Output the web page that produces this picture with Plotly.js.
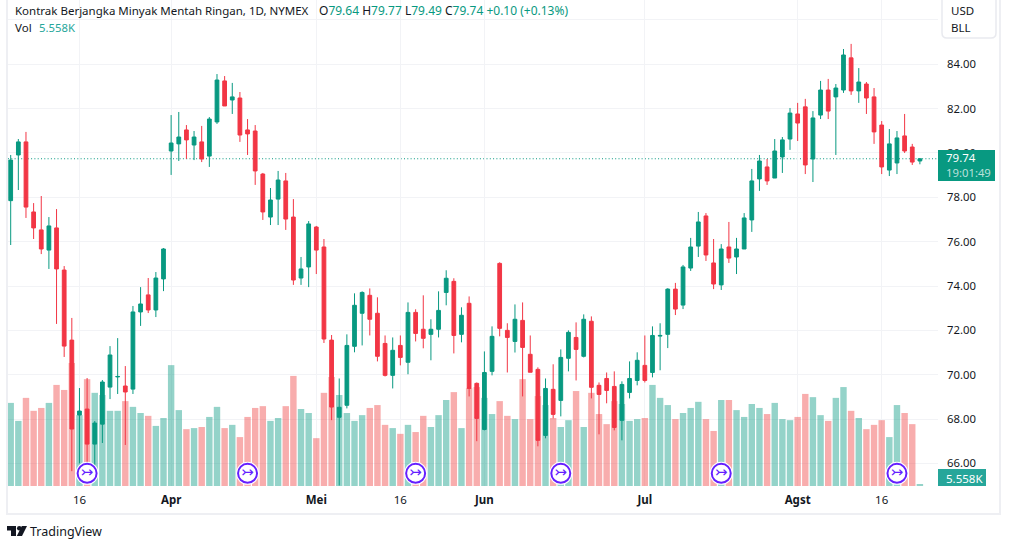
<!DOCTYPE html>
<html><head><meta charset="utf-8">
<script src="https://cdn.plot.ly/plotly-3.0.1.min.js"></script>
<style>html,body{margin:0;padding:0;background:#fff}#c{width:1009px;height:548px}</style>
</head><body><div id="c"></div>
<script>
const openP=[77.85,79.91,80.5,77.34,76.53,75.62,76.62,74.72,71.56,68.18,68.45,66.87,67.77,69.44,69.9,69.49,69.35,72.83,73.6,72.92,74.32,
80.09,80.41,81.04,80.36,80.5,79.86,81.4,83.25,82.39,82.48,81.04,80.99,79.05,77.11,77.92,78.74,77.11,74.36,74.86,76.66,75.76,71.56,68.08,
68.62,71.28,72.77,73.58,72.77,71.41,69.97,71.32,70.56,72.81,72.05,71.82,72.05,73.71,74.21,71.82,73.22,69.61,67.53,70.15,75.02,72.0,71.5,72.45,70.92,70.24,67.26,69.34,68.84,70.74,71.68,70.83,72.41,69.52,69.83,69.47,67.94,69.2,69.74,70.42,70.1,71.74,71.82,
73.86,73.14,74.81,75.8,77.16,75.04,74.05,75.76,75.31,75.67,76.98,78.83,79.37,78.87,79.82,80.63,81.76,82.08,79.73,81.71,82.84,82.53,82.84,84.29,82.8,83.11,82.53,81.26,79.23,79.55,80.77,80.27,79.64];
const highP=[79.91,80.63,80.95,77.74,78.06,77.11,77.47,74.9,72.56,69.4,69.85,67.91,69.76,71.29,71.65,70.39,73.1,73.95,74.36,74.63,75.71,
81.71,81.85,81.26,80.99,81.22,81.62,83.56,83.47,83.16,82.75,81.53,81.26,79.1,78.42,79.19,79.1,77.92,75.31,76.93,76.71,76.12,71.79,69.83,
71.82,73.67,73.76,73.89,73.49,71.77,71.68,71.77,73.26,72.95,73.58,72.5,73.76,74.71,74.35,73.04,73.53,69.65,71.05,72.18,75.07,72.32,73.17,73.26,71.77,70.33,69.83,70.47,71.14,72.0,72.36,72.72,72.63,69.65,70.1,70.15,69.7,70.6,71.01,71.77,72.18,72.32,73.9,
74.14,74.95,76.17,77.34,77.29,76.12,75.89,76.89,76.17,77.29,79.28,79.91,79.73,80.63,80.72,82.03,82.26,82.44,81.89,83.25,83.34,83.11,84.69,84.92,83.83,83.2,82.93,81.44,81.08,80.99,81.76,80.41,79.77];
const lowP=[75.85,78.33,77.07,76.12,75.44,74.77,72.29,70.8,65.65,66.0,66.0,65.2,66.92,68.9,69.13,66.83,69.13,72.2,72.78,72.6,73.77,
79.01,79.64,79.73,79.68,79.59,79.37,81.31,82.12,81.76,80.5,79.91,78.56,76.98,76.75,76.75,76.53,74.05,74.05,73.95,74.54,71.43,67.95,65.0,
68.48,71.01,71.32,71.77,70.6,69.92,69.38,70.42,70.02,71.5,71.19,70.65,71.68,73.13,70.96,71.46,69.02,67.0,67.49,69.97,71.73,70.1,71.0,69.02,70.11,66.77,67.13,68.03,68.12,70.15,69.74,70.78,68.93,67.31,68.71,67.49,67.04,68.93,69.52,69.65,69.88,70.2,71.2,
72.69,72.96,74.68,75.31,75.13,73.86,73.82,75.04,74.54,75.67,76.44,78.29,78.56,78.87,79.1,80.14,80.54,79.05,78.69,81.53,81.53,79.91,82.71,82.62,82.26,81.76,80.41,79.05,78.96,79.05,80.0,79.46,79.49];
const closeP=[79.68,80.5,77.56,76.62,75.67,76.71,74.77,71.29,67.55,68.36,66.87,67.82,69.67,70.89,69.92,69.22,72.83,73.19,72.92,74.36,75.67,
80.45,80.72,80.59,80.72,79.73,81.53,83.29,82.12,82.53,80.81,80.86,79.19,77.34,77.88,78.78,77.02,74.27,74.77,76.8,75.62,71.61,68.54,68.53,
71.32,73.13,73.71,72.5,70.83,69.97,71.1,70.78,72.81,71.86,71.64,72.05,72.9,74.35,71.77,72.68,69.38,68.03,70.1,71.73,72.09,71.68,72.5,71.23,70.11,67.04,69.38,68.21,70.78,71.91,71.14,72.5,69.43,69.11,69.29,67.62,69.56,69.83,70.65,69.74,71.77,71.77,73.86,
72.96,74.86,75.76,76.89,75.4,74.09,75.67,75.26,75.67,77.07,78.74,79.64,78.74,80.09,80.59,81.8,81.35,79.46,81.58,82.84,81.89,82.93,84.42,82.8,83.2,82.48,80.95,79.37,80.41,80.68,80.09,79.59,79.74];
const volumeK=[231,181,245,209,217,231,281,267,342,197,297,259,253,209,209,236,220,203,195,167,189,336,211,158,161,164,192,220,161,170,136,192,217,222,181,189,222,306,214,203,133,259,303,253,
203,181,197,217,225,170,161,145,170,150,195,164,197,239,261,161,272,275,245,200,236,195,186,297,186,250,225,189,164,183,264,164,259,200,172,236,228,181,186,189,281,245,225,
186,203,217,234,186,153,239,239,211,192,228,217,200,231,186,183,192,256,247,197,181,245,275,209,189,158,170,183,136,225,203,172,5.558];
const dateTickIndex=[9,21,40,51,62,83,103,114];
const dateTickLabels=['16','<b>Apr</b>','<b>Mei</b>','16','<b>Jun</b>','<b>Jul</b>','<b>Agst</b>','16'];
const priceTicks=[66,68,70,72,74,76,78,80,82,84,86];
const priceTickLabels=['66.00','68.00','70.00','72.00','74.00','76.00','78.00','80.00','82.00','84.00',''];
const rollIndex=[10,31,53,72,93,116];
const rollLevel=[65.55,65.55,65.55,65.55,65.55,65.55];
const lastClose=79.74;

const GREEN='#089981',RED='#f23645',VOLRED='#ee4040',INK='#131722',FONT='"Noto Sans",sans-serif';
const W=1009,H=548,L=8,R=938,B=486;
const px=x=>(x-L)/(R-L), py=y=>(B-y)/B;
const idx=closeP.map((_,i)=>i);
const P=s=>s.replace(/([MLHVQ]?)(-?[\d.]+),(-?[\d.]+)/g,(m,c,x,y)=>c+px(+x)+','+py(+y));
const txt=(x,y,text,size,color,anchor)=>({xref:'paper',yref:'paper',x:px(x),y:py(y),text,showarrow:false,xanchor:anchor||'left',yanchor:'middle',
  font:{family:FONT,size:size||12,color:color||INK},borderpad:0,borderwidth:0});
const rect=(x0,y0,x1,y1,fill,line)=>({type:'rect',xref:'paper',yref:'paper',x0:px(x0),x1:px(x1),y0:py(y0),y1:py(y1),fillcolor:fill||'rgba(0,0,0,0)',line:line||{width:0},layer:'above'});
const path=(d,fill,line)=>({type:'path',xref:'paper',yref:'paper',path:P(d),fillcolor:fill||'rgba(0,0,0,0)',line:line||{width:0},layer:'above'});
const g=s=>`<span style="color:${GREEN}">${s}</span>`;

const traces=[
 {type:'bar',x:idx,y:volumeK,xaxis:'x',yaxis:'y',width:0.84,hoverinfo:'skip',
  marker:{color:idx.map(i=>closeP[i]>=openP[i]?GREEN:VOLRED),opacity:0.43,line:{width:0}}},
 {type:'candlestick',x:idx,open:openP,high:highP,low:lowP,close:closeP,xaxis:'x',yaxis:'y2',whiskerwidth:0,width:0.58,hoverinfo:'skip',
  increasing:{line:{color:GREEN,width:1},fillcolor:GREEN},decreasing:{line:{color:RED,width:1},fillcolor:RED}},
 {type:'scatter',mode:'markers',x:rollIndex,y:rollLevel,xaxis:'x',yaxis:'y2',hoverinfo:'skip',cliponaxis:false,
  marker:{size:23,color:'#fff',line:{width:0}}},
 {type:'scatter',mode:'markers+text',x:rollIndex,y:rollLevel,xaxis:'x',yaxis:'y2',hoverinfo:'skip',cliponaxis:false,
  text:rollIndex.map(()=>'↣'),textposition:'middle center',textfont:{family:'DejaVu Sans',size:15,color:'#651fff'},
  marker:{size:19,color:'#fff',line:{width:2,color:'#651fff'}}}
];
const layout={width:W,height:H,margin:{l:L,r:W-R,t:0,b:H-B,pad:0},paper_bgcolor:'#fff',plot_bgcolor:'#fff',showlegend:false,hovermode:false,
 xaxis:{type:'linear',range:[-0.353,121.37],tickmode:'array',tickvals:dateTickIndex,ticktext:dateTickLabels,showgrid:true,gridcolor:'#f2f3f6',gridwidth:1,zeroline:false,showline:false,
  ticks:'',ticklabelstandoff:5,tickfont:{family:FONT,size:11.5,color:INK},rangeslider:{visible:false}},
 yaxis:{range:[0,1351],visible:false,showgrid:false,zeroline:false,fixedrange:true},
 yaxis2:{overlaying:'y',side:'right',anchor:'x',range:[64.98,86.9],tickmode:'array',tickvals:priceTicks,ticktext:priceTickLabels,showgrid:true,gridcolor:'#f2f3f6',gridwidth:1,zeroline:false,showline:false,
  ticks:'',ticklabelstandoff:8,tickfont:{family:FONT,size:11.3,color:INK}},
 shapes:[
  {type:'line',xref:'paper',yref:'y2',x0:0,x1:1,y0:lastClose,y1:lastClose,line:{color:GREEN,width:1,dash:'1px,2.3px'},layer:'between'},
  path('M7,-2L7,514L1000,514L1000,-2','rgba(0,0,0,0)',{color:'#eeeff3',width:2}),
  path('M942,-2L942,33Q942,38 947,38L991,38Q996,38 996,33L996,-2','#fff',{color:'#e9eaef',width:1.5}),
  rect(938,150,995,181,GREEN,{width:0}),
  rect(938,469,986,486,'#26a69a',{width:0}),
  path('M7,526L16,526L16,536L11,536L11,530.5L7,530.5Z',INK),
  path('M27,526L22,536L16.8,536L21.8,526Z',INK),
  {type:'circle',xref:'paper',yref:'paper',x0:px(17),x1:px(21.6),y0:py(530.5),y1:py(526),fillcolor:INK,line:{width:0},layer:'above'}
 ],
 annotations:[
  txt(15,10,'Kontrak Berjangka Minyak Mentah Ringan, 1D, NYMEX',11.5),
  txt(319,10,`O${g('79.64')} H${g('79.77')} L${g('79.49')} C${g('79.74')} ${g('+0.10 (+0.13%)')}`,12),
  txt(15,27,`Vol`,11.5),txt(39,27,`<span style="color:#26a69a">5.558K</span>`,11.3),
  txt(951,11,'USD',11.5),txt(951,27,'BLL',11.5),
  txt(946,158,'79.74',11.5,'#fff'),txt(946,172.5,'19:01:49',11.3,'rgba(255,255,255,0.72)'),
  txt(946,478,'5.558K',11.5,'#fff'),
  txt(30,531,'TradingView',12.5,INK)
 ]
};
Plotly.newPlot('c',traces,layout,{displayModeBar:false,staticPlot:true});
</script></body></html>
